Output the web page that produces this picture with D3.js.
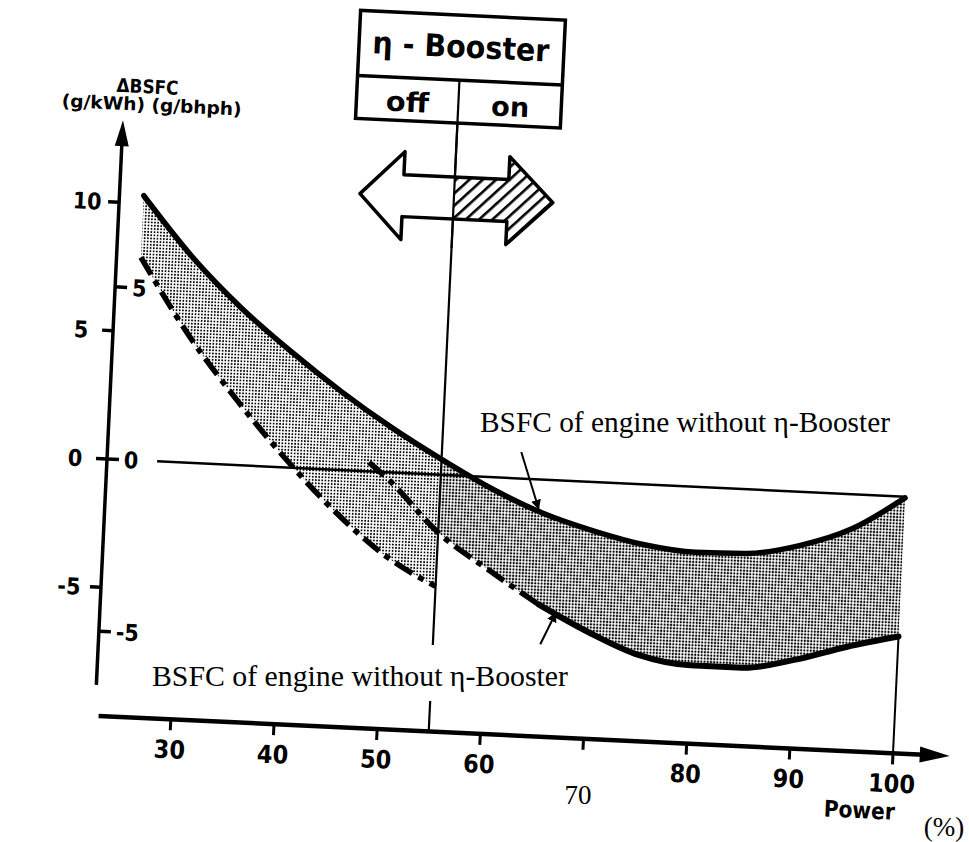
<!DOCTYPE html>
<html>
<head>
<meta charset="utf-8">
<script src="https://cdn.jsdelivr.net/npm/d3@7"></script>
<style>
  body { margin: 0; background: #fff; }
  .bold { font-family: "Liberation Sans Narrow", "DejaVu Sans Condensed", "Arial Narrow", sans-serif; font-weight: bold; font-stretch: condensed; }
  .serif { font-family: "Liberation Serif", "Times New Roman", serif; }
</style>
</head>
<body>
<svg id="chart" width="969" height="842"></svg>
<script>
// values: power in %, delta BSFC in g/kWh
var powerTop = [25, 30, 35, 40, 45, 50, 55, 60, 65, 70, 75, 80, 85, 90, 95, 100];
var bsfcTop = [10.3, 8.0, 6.1, 4.5, 3.05, 1.75, 0.6, -0.45, -1.3, -1.9, -2.35, -2.55, -2.5, -2.1, -1.35, -0.05];

// lower bound, booster off (dash-dot, left of the switch point)
var powerOff = [25, 30, 35, 40, 45, 50, 55];
var bsfcOff = [7.9, 4.95, 2.5, 0.3, -1.65, -3.25, -4.35];

// lower bound, booster on
var powerOn = [48, 50, 55, 60, 65, 70, 75, 80, 85, 90, 95, 100];
var bsfcOn = [0.35, -0.3, -2.25, -3.6, -4.85, -5.85, -6.65, -6.95, -6.95, -6.55, -5.95, -5.45];

var xTicks = [30, 40, 50, 60, 70, 80, 90, 100];
var kwhTicks = [10, 5, 0, -5];
var bhphTicks = [5, 0, -5];
var switchPower = 55;
var dashEnd = 65;      // booster-on curve is dash-dot up to here, solid after
var kwhPerBhph = 1.341;
var curveLabel = "BSFC of engine without \u03b7-Booster";

function zip(ps, bs) {
  return ps.map(function(p, i) { return { p: p, b: bs[i] }; });
}
var upperPts = zip(powerTop, bsfcTop);
var offPts = zip(powerOff, bsfcOff);
var onPts = zip(powerOn, bsfcOn);
var topAt = {};
upperPts.forEach(function(d) { topAt[d.p] = d.b; });

var svg = d3.select('#chart');
var defs = svg.append('defs');

// halftone shading of the band
function dotPattern(id, r) {
  var pat = defs.append('pattern').attr('id', id)
    .attr('patternUnits', 'userSpaceOnUse')
    .attr('width', 3.2).attr('height', 3.2);
  pat.append('circle').attr('cx', 1.6).attr('cy', 1.6).attr('r', r).attr('fill', '#000');
}
dotPattern('dotsLight', 0.95);
dotPattern('dotsDark', 1.12);

var hatch = defs.append('pattern').attr('id', 'hatch')
  .attr('patternUnits', 'userSpaceOnUse')
  .attr('width', 9).attr('height', 9)
  .attr('patternTransform', 'rotate(45)');
hatch.append('rect').attr('width', 9).attr('height', 9).attr('fill', '#fff');
hatch.append('line').attr('x1', 1).attr('y1', 0).attr('x2', 1).attr('y2', 9)
  .attr('stroke', '#000').attr('stroke-width', 3.2);

defs.append('marker').attr('id', 'tip')
  .attr('viewBox', '0 0 10 10').attr('refX', 9).attr('refY', 5)
  .attr('markerWidth', 5).attr('markerHeight', 5).attr('orient', 'auto')
  .append('path').attr('d', 'M0,0 L10,5 L0,10 z').attr('fill', '#000');

// the scan is tilted, so the whole plot lives in a slightly rotated frame
var g = svg.append('g').attr('transform', 'translate(107,459) rotate(2.7)');

var x = d3.scaleLinear().domain([30, 100]).range([76, 799]);
var y = d3.scaleLinear().domain([0, 10]).range([0, -257]);
var y2 = d3.scaleLinear().domain([-5, 5]).range([y(-5 * kwhPerBhph), y(5 * kwhPerBhph)]);
var axisLevel = y(-10);
var cx = x(switchPower);

// shaded band
var band = d3.area()
  .x(function(d) { return x(d.p); })
  .y0(function(d) { return y(d.lo); })
  .y1(function(d) { return y(d.hi); })
  .curve(d3.curveMonotoneX);

var bandOff = offPts.map(function(d) { return { p: d.p, lo: d.b, hi: topAt[d.p] }; });
var bandOn = onPts.filter(function(d) { return d.p >= switchPower; })
  .map(function(d) { return { p: d.p, lo: d.b, hi: topAt[d.p] }; });

g.append('path').attr('d', band(bandOff)).attr('fill', 'url(#dotsLight)');
g.append('path').attr('d', band(bandOn)).attr('fill', 'url(#dotsDark)');

// zero line
g.append('line')
  .attr('x1', x(27.5)).attr('x2', x(100))
  .attr('y1', y(0)).attr('y2', y(0))
  .attr('stroke', '#000').attr('stroke-width', 2.5);

var line = d3.line()
  .x(function(d) { return x(d.p); })
  .y(function(d) { return y(d.b); })
  .curve(d3.curveMonotoneX);

g.append('path').attr('d', line(upperPts))
  .attr('fill', 'none').attr('stroke', '#000').attr('stroke-width', 5.5)
  .attr('stroke-linecap', 'round');

g.append('path').attr('d', line(offPts))
  .attr('fill', 'none').attr('stroke', '#000').attr('stroke-width', 5.5)
  .attr('stroke-dasharray', '20,7,6,7');

g.append('path').attr('d', line(onPts.filter(function(d) { return d.p <= dashEnd; })))
  .attr('fill', 'none').attr('stroke', '#000').attr('stroke-width', 5.5)
  .attr('stroke-dasharray', '20,7,6,7');

g.append('path').attr('d', line(onPts.filter(function(d) { return d.p >= dashEnd; })))
  .attr('fill', 'none').attr('stroke', '#000').attr('stroke-width', 6)
  .attr('stroke-linecap', 'round');

// drop line at full power
var last = onPts[onPts.length - 1];
g.append('line')
  .attr('x1', x(last.p)).attr('x2', x(last.p))
  .attr('y1', y(last.b)).attr('y2', axisLevel)
  .attr('stroke', '#000').attr('stroke-width', 2);

// switch point line
g.append('line')
  .attr('x1', cx).attr('x2', cx)
  .attr('y1', -395).attr('y2', axisLevel)
  .attr('stroke', '#000').attr('stroke-width', 2.2);

// y axis
g.append('line')
  .attr('x1', 0).attr('x2', 0)
  .attr('y1', y(-8.8)).attr('y2', y(13.2) + 20)
  .attr('stroke', '#000').attr('stroke-width', 3.5);
g.append('path')
  .attr('d', 'M0,' + y(13.2) + ' L-7,' + (y(13.2) + 26) + ' L7,' + (y(13.2) + 26) + ' Z')
  .attr('fill', '#000');

g.selectAll('.kwhTick').data(kwhTicks).enter().append('line')
  .attr('x1', -11).attr('x2', 0)
  .attr('y1', function(d) { return y(d); }).attr('y2', function(d) { return y(d); })
  .attr('stroke', '#000').attr('stroke-width', 3.5);
g.selectAll('.kwhLabel').data(kwhTicks).enter().append('text')
  .attr('class', 'bold')
  .attr('x', -32).attr('y', function(d) { return y(d); }).attr('dy', '0.36em')
  .attr('text-anchor', 'middle').attr('font-size', 23)
  .text(function(d) { return d; });

g.selectAll('.bhphTick').data(bhphTicks).enter().append('line')
  .attr('x1', 0).attr('x2', 12)
  .attr('y1', function(d) { return y2(d); }).attr('y2', function(d) { return y2(d); })
  .attr('stroke', '#000').attr('stroke-width', 3.5);
g.selectAll('.bhphLabel').data(bhphTicks).enter().append('text')
  .attr('class', 'bold')
  .attr('x', 17).attr('y', function(d) { return y2(d); }).attr('dy', '0.36em')
  .attr('font-size', 23)
  .text(function(d) { return d; });

g.append('text').attr('class', 'bold')
  .attr('x', 23).attr('y', -374).attr('dy', '0.36em')
  .attr('text-anchor', 'middle').attr('font-size', 19)
  .attr('textLength', 62).attr('lengthAdjust', 'spacingAndGlyphs')
  .text('\u0394BSFC');
g.append('text').attr('class', 'bold')
  .attr('x', 28).attr('y', -356).attr('dy', '0.36em')
  .attr('text-anchor', 'middle').attr('font-size', 18)
  .attr('textLength', 180).attr('lengthAdjust', 'spacingAndGlyphs')
  .text('(g/kWh) (g/bhph)');

// x axis
g.append('line')
  .attr('x1', x(23)).attr('x2', x(103))
  .attr('y1', axisLevel).attr('y2', axisLevel)
  .attr('stroke', '#000').attr('stroke-width', 4.5);
g.append('path')
  .attr('d', 'M' + x(105.5) + ',' + axisLevel +
             ' L' + (x(105.5) - 30) + ',' + (axisLevel - 8) +
             ' L' + (x(105.5) - 30) + ',' + (axisLevel + 8) + ' Z')
  .attr('fill', '#000');

g.selectAll('.xTick').data(xTicks).enter().append('line')
  .attr('x1', function(d) { return x(d); }).attr('x2', function(d) { return x(d); })
  .attr('y1', axisLevel).attr('y2', axisLevel + 11)
  .attr('stroke', '#000').attr('stroke-width', 3);
g.selectAll('.xLabel').data(xTicks.filter(function(d) { return d !== 70; })).enter().append('text')
  .attr('class', 'bold')
  .attr('x', function(d) { return x(d); }).attr('y', axisLevel + 30).attr('dy', '0.36em')
  .attr('text-anchor', 'middle').attr('font-size', 25)
  .text(function(d) { return d; });

g.append('text').attr('class', 'bold')
  .attr('x', x(97)).attr('y', axisLevel + 58).attr('dy', '0.36em')
  .attr('text-anchor', 'middle').attr('font-size', 23)
  .attr('textLength', 71).attr('lengthAdjust', 'spacingAndGlyphs')
  .text('Power');

// booster box
g.append('rect')
  .attr('x', cx - 102).attr('y', -460).attr('width', 205).attr('height', 108)
  .attr('fill', '#fff').attr('stroke', '#000').attr('stroke-width', 3.5);
g.append('line')
  .attr('x1', cx - 102).attr('x2', cx + 103).attr('y1', -395).attr('y2', -395)
  .attr('stroke', '#000').attr('stroke-width', 3.5);
g.append('line')
  .attr('x1', cx).attr('x2', cx).attr('y1', -395).attr('y2', -352)
  .attr('stroke', '#000').attr('stroke-width', 2.2);
g.append('text').attr('class', 'bold')
  .attr('x', cx).attr('y', -429).attr('dy', '0.36em')
  .attr('text-anchor', 'middle').attr('font-size', 31)
  .attr('textLength', 177).attr('lengthAdjust', 'spacingAndGlyphs')
  .text('\u03b7 - Booster');
g.append('text').attr('class', 'bold')
  .attr('x', cx - 51).attr('y', -371).attr('dy', '0.36em')
  .attr('text-anchor', 'middle').attr('font-size', 27)
  .attr('textLength', 43).attr('lengthAdjust', 'spacingAndGlyphs')
  .text('off');
g.append('text').attr('class', 'bold')
  .attr('x', cx + 52).attr('y', -371).attr('dy', '0.36em')
  .attr('text-anchor', 'middle').attr('font-size', 27)
  .attr('textLength', 38).attr('lengthAdjust', 'spacingAndGlyphs')
  .text('on');

// double arrow: white half = off, hatched half = on
var ay = -277;
var arrowPts = [
  [cx - 94, ay], [cx - 51, ay - 44], [cx - 51, ay - 21], [cx + 54, ay - 21],
  [cx + 54, ay - 44], [cx + 99, ay], [cx + 54, ay + 44], [cx + 54, ay + 21],
  [cx - 51, ay + 21], [cx - 51, ay + 44]
];
var arrowPath = 'M' + arrowPts.map(function(pt) { return pt.join(','); }).join('L') + 'Z';
defs.append('clipPath').attr('id', 'onHalf')
  .append('rect').attr('x', cx).attr('y', ay - 60).attr('width', 120).attr('height', 120);
g.append('path').attr('d', arrowPath).attr('fill', '#fff');
g.append('path').attr('d', arrowPath).attr('fill', 'url(#hatch)').attr('clip-path', 'url(#onHalf)');
g.append('path').attr('d', arrowPath).attr('fill', 'none')
  .attr('stroke', '#000').attr('stroke-width', 3.5).attr('stroke-linejoin', 'round');
g.append('line')
  .attr('x1', cx).attr('x2', cx).attr('y1', -352).attr('y2', ay + 50)
  .attr('stroke', '#000').attr('stroke-width', 2.2);

// pointers from the labels to the curves
var pTop = upperPts.filter(function(d) { return d.p === 65; })[0];
g.append('line')
  .attr('x1', x(pTop.p) - 24).attr('y1', y(pTop.b) - 60)
  .attr('x2', x(pTop.p) - 4).attr('y2', y(pTop.b) - 4)
  .attr('stroke', '#000').attr('stroke-width', 2).attr('marker-end', 'url(#tip)');
var pOn = onPts.filter(function(d) { return d.p === 65; })[0];
g.append('line')
  .attr('x1', x(pOn.p) + 4).attr('y1', y(pOn.b) + 40)
  .attr('x2', x(pOn.p) + 18).attr('y2', y(pOn.b) + 8)
  .attr('stroke', '#000').attr('stroke-width', 2).attr('marker-end', 'url(#tip)');

// later added labels (upright, serif)
svg.append('text').attr('class', 'serif')
  .attr('x', 480).attr('y', 432).attr('font-size', 28.5)
  .attr('textLength', 410).attr('lengthAdjust', 'spacingAndGlyphs')
  .text(curveLabel);

svg.append('rect').attr('x', 146).attr('y', 645).attr('width', 428).attr('height', 56).attr('fill', '#fff');
svg.append('text').attr('class', 'serif')
  .attr('x', 152).attr('y', 686).attr('font-size', 28.5)
  .attr('textLength', 416).attr('lengthAdjust', 'spacingAndGlyphs')
  .text(curveLabel);

svg.append('text').attr('class', 'serif')
  .attr('x', 578).attr('y', 804).attr('text-anchor', 'middle').attr('font-size', 27)
  .text('70');
svg.append('text').attr('class', 'serif')
  .attr('x', 944).attr('y', 836).attr('text-anchor', 'middle').attr('font-size', 27)
  .text('(%)');
</script>
</body>
</html>
